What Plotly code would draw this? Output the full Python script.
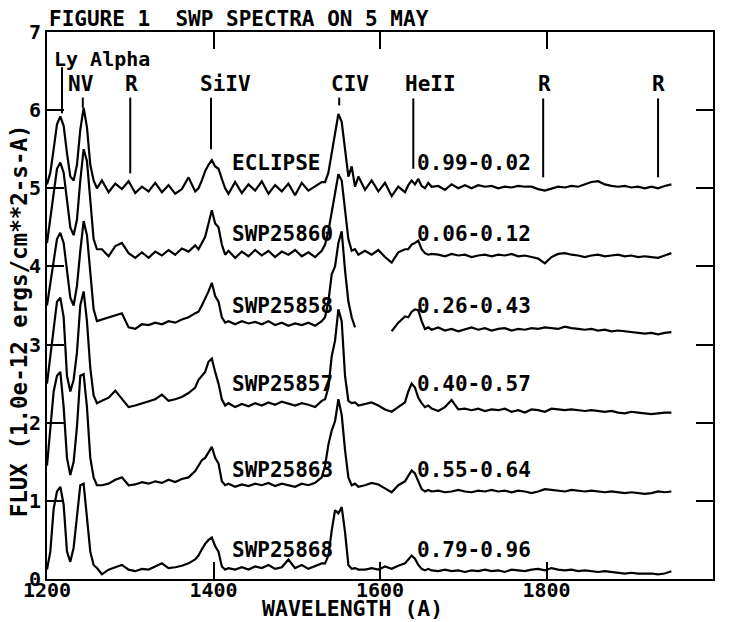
import plotly.graph_objects as go

# ---------------- data ----------------
wavelength = [1200,1204,1208,1212,1216,1220,1224,1228,1232,1236,1240,1244,1248,1252,1256,1260,
              1266,1274,1282,1290,1298,1306,1314,1322,1330,1338,1346,1354,1362,1370,1378,
              1382,1386,1390,1394,1398,1402,1406,1410,1414,1418,
              1426,1434,1442,1450,1458,1466,1474,1482,1490,1498,1506,1514,1522,1530,
              1534,1538,1542,1546,1550,1554,1558,1562,1566,1570,1574,
              1582,1590,1598,1606,1614,1622,1630,
              1634,1638,1642,1646,1650,1654,1658,1662,
              1670,1678,1686,1694,1702,1710,1718,1726,1734,1742,1750,1758,1766,1774,1782,1790,
              1798,1806,1814,1822,1830,1838,1846,1854,1862,1870,1878,1886,1894,1902,1910,1918,
              1926,1934,1942,1950]

eclipse = [5.05,5.2,5.5,5.82,5.92,5.8,5.45,5.15,5.1,5.3,5.75,6.03,5.78,5.3,5.1,5.0,
           5.1,4.95,5.06,4.99,5.09,4.94,5.02,4.96,5.07,4.95,5.04,4.93,4.99,5.14,4.96,
           5.0,5.1,5.22,5.3,5.36,5.28,5.25,5.12,5.0,4.93,
           5.08,4.94,5.05,4.97,5.09,4.93,5.04,4.96,5.06,4.91,5.07,4.97,5.02,5.08,
           5.08,5.2,5.45,5.72,5.95,5.85,5.5,5.15,5.28,5.02,5.15,
           4.98,5.1,4.96,5.07,4.9,5.02,4.95,
           5.04,5.1,5.05,5.12,5.03,5.0,5.07,5.02,
           5.03,4.98,5.05,5.0,5.04,5.0,5.04,5.02,5.03,5.0,5.02,5.01,5.03,5.02,5.02,4.99,
           4.97,5.0,5.02,5.01,5.03,5.02,5.05,5.08,5.09,5.05,5.03,5.02,5.03,5.01,5.02,5.0,
           5.02,5.0,5.03,5.05]

swp25860 = [4.3,4.6,4.95,5.25,5.33,5.2,4.85,4.5,4.4,4.6,5.1,5.5,5.35,4.8,4.35,4.22,
            4.22,4.13,4.26,4.3,4.17,4.11,4.18,4.11,4.19,4.14,4.21,4.15,4.23,4.19,4.27,
            4.22,4.3,4.38,4.55,4.72,4.55,4.5,4.28,4.15,4.2,
            4.11,4.19,4.13,4.21,4.14,4.2,4.12,4.19,4.15,4.21,4.13,4.18,4.12,4.2,
            4.28,4.45,4.7,4.95,5.18,5.1,4.75,4.35,4.2,4.22,4.15,
            4.2,4.15,4.21,4.12,4.05,4.18,4.22,
            4.22,4.28,4.3,4.33,4.22,4.17,4.15,4.16,
            4.15,4.13,4.16,4.14,4.15,4.12,4.14,4.15,4.13,4.15,4.14,4.16,4.13,4.14,4.12,4.1,
            4.04,4.12,4.16,4.17,4.15,4.14,4.12,4.14,4.15,4.13,4.14,4.15,4.13,4.14,4.12,4.13,
            4.12,4.11,4.14,4.17]

swp25858 = [3.5,3.8,4.1,4.35,4.43,4.3,3.95,3.6,3.5,3.75,4.2,4.58,4.4,3.9,3.45,3.3,
            3.32,3.35,3.38,3.4,3.22,3.2,3.26,3.25,3.28,3.26,3.3,3.28,3.32,3.35,3.4,
            3.42,3.5,3.58,3.68,3.79,3.62,3.55,3.35,3.28,3.3,
            3.26,3.3,3.27,3.29,3.26,3.3,3.25,3.28,3.24,3.27,3.25,3.28,3.24,3.3,
            3.35,3.55,3.9,4.0,4.3,4.45,3.95,3.55,3.35,3.22,None,
            None,None,None,None,3.17,3.28,3.36,
            3.35,3.42,3.45,3.44,3.3,3.2,3.22,3.19,
            3.22,3.18,3.2,3.17,3.2,3.22,3.19,3.21,3.18,3.2,3.21,3.18,3.2,3.19,3.21,3.2,
            3.22,3.21,3.2,3.23,3.21,3.2,3.19,3.2,3.18,3.19,3.17,3.18,3.17,3.16,3.15,3.14,
            3.15,3.13,3.15,3.16]

swp25857 = [2.5,2.85,3.25,3.55,3.6,3.35,2.6,2.4,2.55,2.9,3.5,3.68,3.3,2.7,2.35,2.25,
            2.28,2.32,2.41,2.3,2.2,2.22,2.25,2.27,2.3,2.36,2.28,2.3,2.33,2.38,2.45,
            2.55,2.6,2.65,2.78,2.82,2.65,2.5,2.3,2.22,2.25,
            2.2,2.24,2.21,2.25,2.22,2.26,2.23,2.27,2.24,2.22,2.25,2.23,2.2,2.28,
            2.3,2.45,2.85,3.05,3.45,3.3,2.6,2.28,2.25,2.26,2.22,
            2.24,2.26,2.22,2.17,2.14,2.2,2.26,
            2.4,2.5,2.45,2.32,2.25,2.2,2.22,2.18,
            2.15,2.2,2.29,2.17,2.18,2.16,2.18,2.15,2.17,2.16,2.18,2.14,2.16,2.13,2.17,2.16,
            2.14,2.18,2.17,2.16,2.17,2.16,2.15,2.16,2.15,2.14,2.15,2.13,2.12,2.14,2.13,2.12,
            2.11,2.12,2.13,2.13]

swp25863 = [1.45,1.9,2.4,2.6,2.65,2.2,1.55,1.33,1.5,1.95,2.6,2.62,2.2,1.55,1.3,1.2,
            1.2,1.22,1.27,1.3,1.2,1.21,1.24,1.22,1.25,1.23,1.27,1.24,1.28,1.3,1.38,
            1.45,1.52,1.55,1.62,1.69,1.55,1.48,1.25,1.2,1.22,
            1.18,1.21,1.19,1.22,1.2,1.23,1.19,1.22,1.2,1.18,1.22,1.2,1.23,1.3,
            1.45,1.72,1.9,2.02,2.3,2.1,1.65,1.3,1.2,1.22,1.18,
            1.2,1.23,1.21,1.16,1.11,1.2,1.25,
            1.32,1.39,1.35,1.25,1.15,1.12,1.14,1.12,
            1.13,1.11,1.12,1.14,1.12,1.11,1.13,1.12,1.14,1.12,1.13,1.11,1.13,1.12,1.1,1.12,
            1.15,1.14,1.13,1.12,1.14,1.13,1.12,1.13,1.12,1.11,1.12,1.11,1.1,1.11,1.1,1.09,
            1.1,1.12,1.11,1.12]

swp25868 = [0.12,0.35,0.9,1.12,1.18,0.95,0.35,0.22,0.4,0.85,1.2,1.22,0.8,0.35,0.18,0.14,
            0.06,0.12,0.15,0.18,0.12,0.1,0.13,0.12,0.16,0.2,0.14,0.15,0.17,0.2,0.25,
            0.3,0.38,0.45,0.5,0.53,0.42,0.35,0.16,0.12,0.14,
            0.12,0.15,0.12,0.16,0.14,0.18,0.13,0.15,0.25,0.14,0.18,0.13,0.16,0.2,
            0.2,0.3,0.62,0.88,0.84,0.92,0.6,0.18,0.13,0.14,0.12,
            0.12,0.14,0.12,0.16,0.13,0.17,0.2,
            0.25,0.3,0.26,0.18,0.13,0.11,0.13,0.11,
            0.1,0.12,0.1,0.11,0.09,0.11,0.1,0.12,0.1,0.11,0.09,0.12,0.11,0.1,0.12,0.13,
            0.11,0.14,0.12,0.11,0.12,0.1,0.11,0.1,0.09,0.1,0.09,0.08,0.07,0.08,0.07,0.07,
            0.07,0.06,0.07,0.1]

spectra = [eclipse, swp25860, swp25858, swp25857, swp25863, swp25868]
spectrum_names = ["ECLIPSE", "SWP25860", "SWP25858", "SWP25857", "SWP25863", "SWP25868"]
phase_labels = ["0.99-0.02", "0.06-0.12", "0.26-0.43", "0.40-0.57", "0.55-0.64", "0.79-0.96"]
label_levels = [5.32, 4.42, 3.49, 2.49, 1.40, 0.37]
name_x = 1420
phase_x = 1642

# emission / reseau line identifications
id_labels = ["NV", "R", "SiIV", "CIV", "HeII", "R", "R"]
id_wavelengths = [1243, 1300, 1397, 1551, 1640, 1796, 1934]
id_label_x = [1240.5, 1302, 1414, 1564, 1661, 1797, 1935]
id_tops = [6.16, 6.16, 6.16, 6.16, 6.15, 6.15, 6.15]
id_bottoms = [6.03, 5.19, 5.50, 6.06, 5.25, 5.14, 5.14]
lya_wavelength = 1218
lya_top, lya_bottom = 6.55, 5.96
label_level_ids = 6.33
lya_label_level = 6.65

x_ticks = [1200, 1400, 1600, 1800, 2000]
y_ticks = [0, 1, 2, 3, 4, 5, 6, 7]

for s in spectra:
    assert len(s) == len(wavelength)

FONT = "DejaVu Sans Mono"
fig = go.Figure()

for name, s in zip(spectrum_names, spectra):
    fig.add_trace(go.Scatter(x=wavelength, y=s, mode="lines", name=name,
                             line=dict(color="black", width=2.2), connectgaps=False,
                             hoverinfo="skip"))

# identification marker lines
lx, ly = [lya_wavelength, lya_wavelength, None], [lya_top, lya_bottom, None]
for w, t, b in zip(id_wavelengths, id_tops, id_bottoms):
    lx += [w, w, None]
    ly += [t, b, None]
fig.add_trace(go.Scatter(x=lx, y=ly, mode="lines", line=dict(color="black", width=2),
                         hoverinfo="skip"))

ann = []
tf = dict(family=FONT, size=21, color="black", weight="bold")
for nm, ph, lv in zip(spectrum_names, phase_labels, label_levels):
    ann.append(dict(x=name_x, y=lv, xref="x", yref="y", text=nm, showarrow=False,
                    xanchor="left", yanchor="middle", font=tf))
    ann.append(dict(x=phase_x, y=lv, xref="x", yref="y", text=ph, showarrow=False,
                    xanchor="left", yanchor="middle", font=tf))
for lab, xl in zip(id_labels, id_label_x):
    ann.append(dict(x=xl, y=label_level_ids, xref="x", yref="y", text=lab, showarrow=False,
                    xanchor="center", yanchor="middle", font=tf))
ann.append(dict(x=1206, y=lya_label_level, xref="x", yref="y", text="Ly Alpha", showarrow=False,
                xanchor="left", yanchor="middle", font=dict(family=FONT, size=20, color="black", weight="bold")))
ann.append(dict(x=0.0, y=1.0, xref="paper", yref="paper", yshift=13,
                text="FIGURE 1  SWP SPECTRA ON 5 MAY", showarrow=False,
                xanchor="left", yanchor="middle", font=dict(family=FONT, size=21, color="black", weight="bold")))
ann.append(dict(x=0.458, y=0.0, xref="paper", yref="paper", yshift=-29,
                text="WAVELENGTH (A)", showarrow=False,
                xanchor="center", yanchor="middle", font=dict(family=FONT, size=21.5, color="black", weight="bold")))
ann.append(dict(x=0.0, y=0.472, xref="paper", yref="paper", xshift=-28.5,
                text="FLUX (1.0e-12 ergs/cm**2-s-A)", showarrow=False, textangle=-90,
                xanchor="center", yanchor="middle", font=dict(family=FONT, size=22.5, color="black", weight="bold")))

axis_common = dict(showgrid=False, zeroline=False, showline=True, linecolor="black",
                   linewidth=2, mirror="ticks", ticks="inside", ticklen=17, tickwidth=2,
                   tickcolor="black", tickfont=dict(family=FONT, size=20, color="black", weight="bold"))

# the page body adds an 8 px offset, so the figure is drawn 8 px smaller
fig.update_layout(
    width=727, height=614,
    margin=dict(l=39, r=22, t=22, b=43),
    paper_bgcolor="white", plot_bgcolor="white",
    showlegend=False,
    xaxis=dict(range=[1200, 2000], tickvals=x_ticks, ticktext=[str(v) for v in x_ticks],
               ticklabelstandoff=-8, **axis_common),
    yaxis=dict(range=[0, 7], tickvals=y_ticks, ticktext=[str(v) for v in y_ticks], **axis_common),
    annotations=ann,
)

fig.write_html("out.html")
